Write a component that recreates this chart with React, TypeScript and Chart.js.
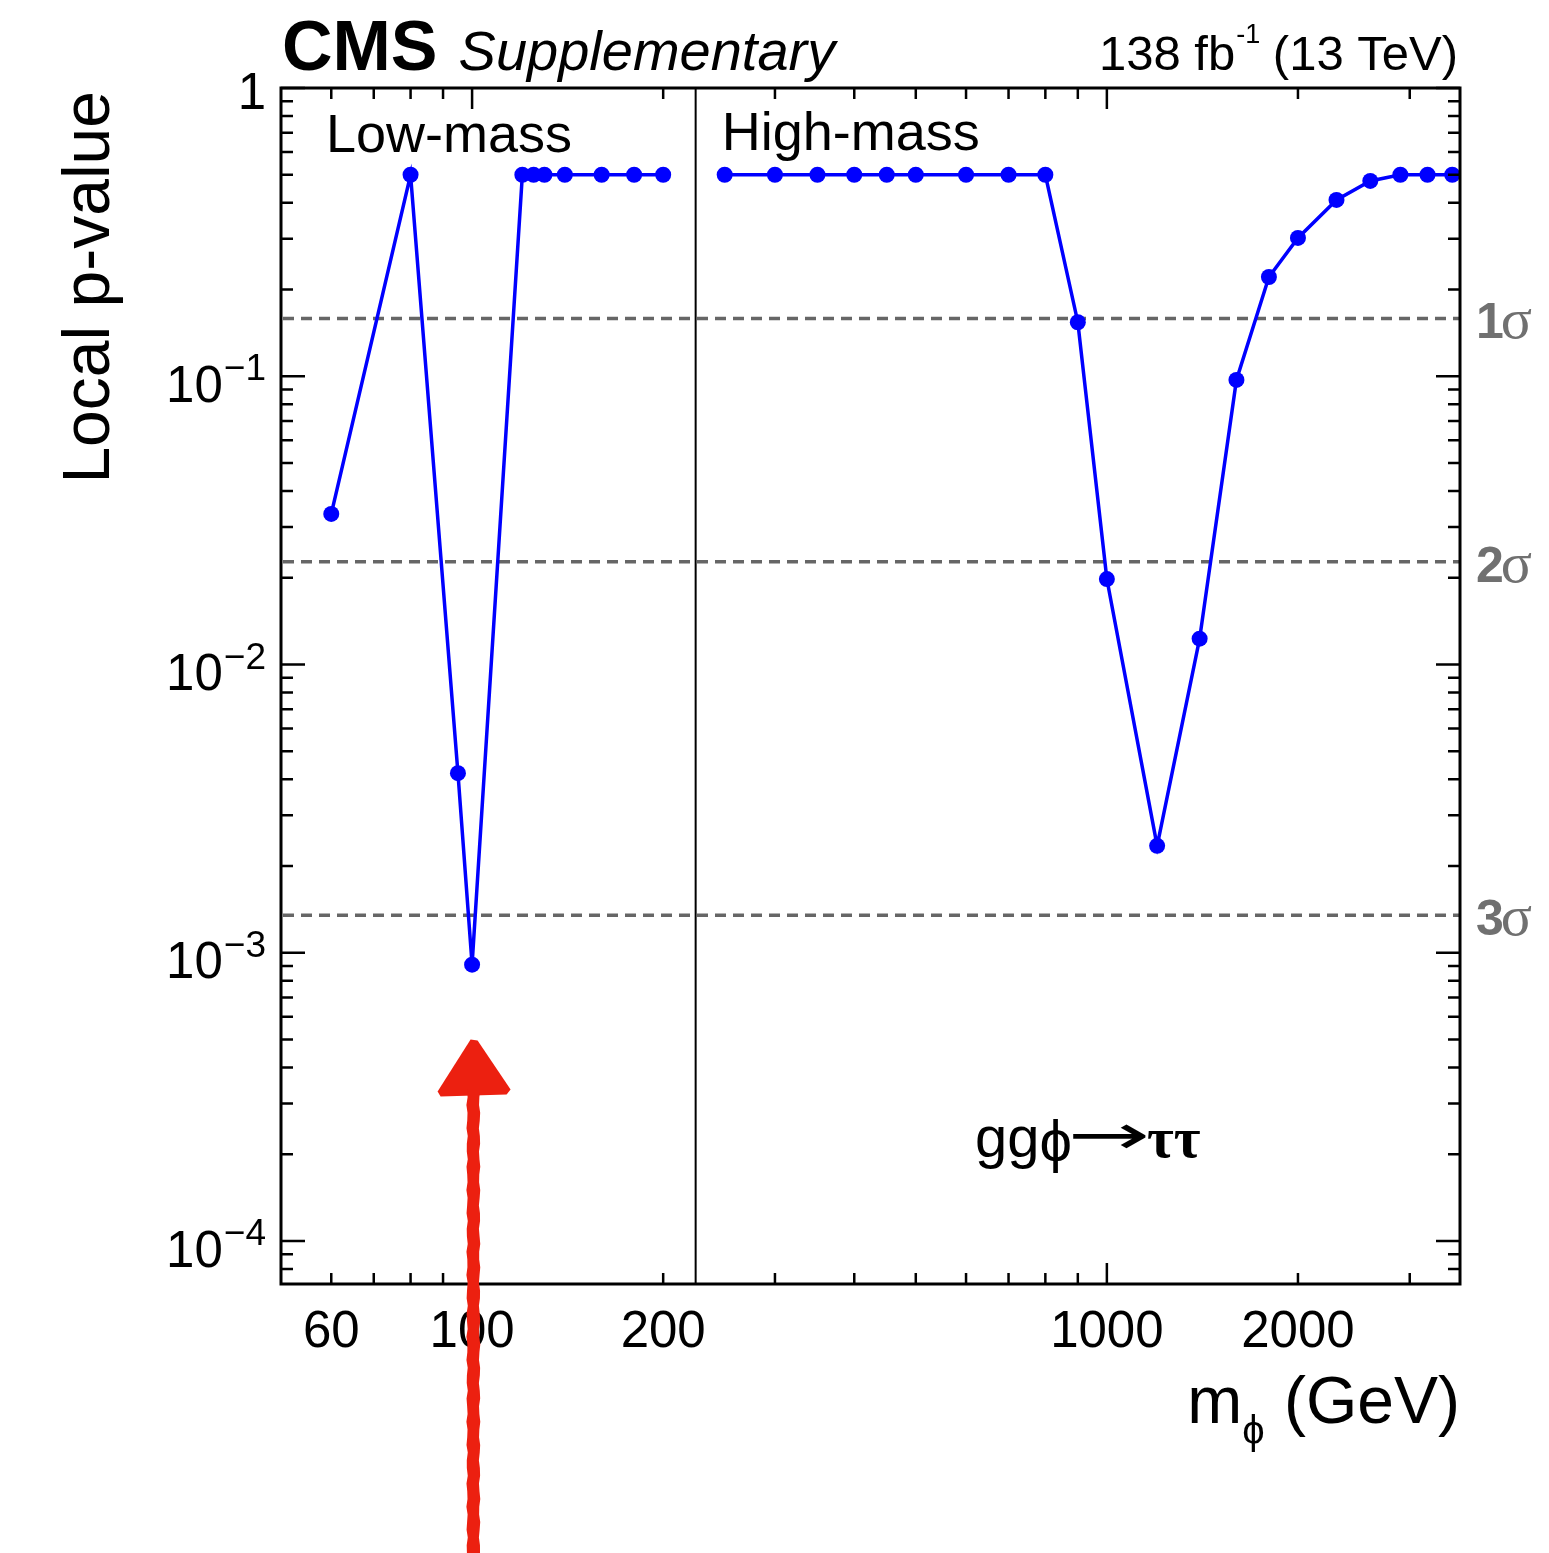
import React, { useEffect, useRef } from "react";
import { Chart, registerables } from "chart.js";

Chart.register(...registerables);

// ---------- data ----------
const lowMass = [60, 80, 95, 100, 120, 125, 130, 140, 160, 180, 200];
const lowP = [0.0333, 0.5, 0.0042, 0.00091, 0.5, 0.5, 0.5, 0.5, 0.5, 0.5, 0.5];

const highMass = [250, 300, 350, 400, 450, 500, 600, 700, 800, 900, 1000, 1200, 1400, 1600, 1800, 2000, 2300, 2600, 2900, 3200, 3500];
const highP = [0.5, 0.5, 0.5, 0.5, 0.5, 0.5, 0.5, 0.5, 0.5, 0.154, 0.0198, 0.00235, 0.0123, 0.0971, 0.221, 0.302, 0.409, 0.476, 0.5, 0.5, 0.5];

const xTickValues = [60, 70, 80, 90, 100, 200, 300, 400, 500, 600, 700, 800, 900, 1000, 2000, 3000];
const xMajorTicks = [100, 1000];
const xTickLabels = [60, 100, 200, 1000, 2000];
const yDecadeExponents = [0, -1, -2, -3, -4];

const sigmaNames = ["1", "2", "3"];
const sigmaP = [0.1587, 0.02275, 0.00135];

const regionNames = ["Low-mass", "High-mass"];
const X_MIN = 50;
const X_MAX = 3600;
const Y_MIN = 7.1e-5;
const Y_MAX = 1;
const SPLIT_MASS = 225;
const ARROW_MASS = 100;
const ARROW_TIP_P = 5e-4;

const SANS = "'Liberation Sans', Arial, Helvetica, sans-serif";
const SERIF = "'Liberation Serif', 'Times New Roman', serif";

const decor = {
  id: "cmsDecor",
  beforeDatasetsDraw(chart: any) {
    const { ctx, chartArea: a, scales } = chart;
    const y = scales.y;
    ctx.save();
    ctx.strokeStyle = "#666666";
    ctx.lineWidth = 3.5;
    ctx.setLineDash([11, 7]);
    sigmaP.forEach((p) => {
      const py = y.getPixelForValue(p);
      ctx.beginPath();
      ctx.moveTo(a.left + 2, py);
      ctx.lineTo(a.right, py);
      ctx.stroke();
    });
    ctx.restore();
  },
  afterDraw(chart: any) {
    const { ctx, chartArea: a, scales } = chart;
    const x = scales.x;
    const y = scales.y;
    ctx.save();
    ctx.fillStyle = "#000";
    ctx.strokeStyle = "#000";

    // separator between low- and high-mass regions
    const sx = x.getPixelForValue(SPLIT_MASS);
    ctx.lineWidth = 2;
    ctx.beginPath();
    ctx.moveTo(sx, a.top);
    ctx.lineTo(sx, a.bottom);
    ctx.stroke();

    // ticks (inside the frame, on all four sides)
    ctx.lineWidth = 2.5;
    xTickValues.forEach((v) => {
      const px = x.getPixelForValue(v);
      const len = xMajorTicks.includes(v) ? 21 : 11;
      ctx.beginPath();
      ctx.moveTo(px, a.bottom);
      ctx.lineTo(px, a.bottom - len);
      ctx.moveTo(px, a.top);
      ctx.lineTo(px, a.top + len);
      ctx.stroke();
    });
    for (let e = -5; e <= 0; e++) {
      for (let k = 1; k <= 9; k++) {
        const v = k * Math.pow(10, e);
        if (v < Y_MIN || v > Y_MAX * 1.0001) continue;
        const py = y.getPixelForValue(v);
        const len = k === 1 ? 24 : 12;
        ctx.beginPath();
        ctx.moveTo(a.left, py);
        ctx.lineTo(a.left + len, py);
        ctx.moveTo(a.right, py);
        ctx.lineTo(a.right - len, py);
        ctx.stroke();
      }
    }

    // frame
    ctx.lineWidth = 3;
    ctx.strokeRect(a.left, a.top, a.right - a.left, a.bottom - a.top);

    // y tick labels
    const labelRight = a.left - 15;
    ctx.textBaseline = "alphabetic";
    ctx.textAlign = "right";
    yDecadeExponents.forEach((e) => {
      const py = y.getPixelForValue(Math.pow(10, e));
      if (e === 0) {
        ctx.font = `51px ${SANS}`;
        ctx.fillText("1", labelRight, py + 21);
      } else {
        const expText = "\u2212" + String(-e);
        ctx.font = `37px ${SANS}`;
        const ew = ctx.measureText(expText).width;
        ctx.fillText(expText, labelRight, py + 4);
        ctx.font = `51px ${SANS}`;
        ctx.fillText("10", labelRight - ew - 1, py + 25.5);
      }
    });

    // x tick labels
    ctx.textAlign = "center";
    ctx.font = `51px ${SANS}`;
    xTickLabels.forEach((v) => {
      ctx.fillText(String(v), x.getPixelForValue(v), a.bottom + 63);
    });

    // x axis title
    ctx.textAlign = "right";
    ctx.font = `66px ${SANS}`;
    const geV = " (GeV)";
    const gw = ctx.measureText(geV).width;
    ctx.fillText(geV, a.right, a.bottom + 139);
    ctx.font = `40px ${SANS}`;
    const phiW = ctx.measureText("\u03d5").width;
    ctx.fillText("\u03d5", a.right - gw - 1, a.bottom + 160);
    ctx.font = `66px ${SANS}`;
    ctx.fillText("m", a.right - gw - phiW - 1, a.bottom + 139);

    // y axis title
    ctx.save();
    ctx.translate(109, a.top + 3);
    ctx.rotate(-Math.PI / 2);
    ctx.textAlign = "right";
    ctx.font = `66px ${SANS}`;
    ctx.fillText("Local p-value", 0, 0);
    ctx.restore();

    // CMS header
    ctx.textAlign = "left";
    ctx.font = `bold 70px ${SANS}`;
    ctx.fillText("CMS", a.left + 1, 70);
    const cmsW = ctx.measureText("CMS").width;
    ctx.font = `italic 56px ${SANS}`;
    ctx.fillText("Supplementary", a.left + cmsW + 22, 70);

    // luminosity label
    ctx.font = `49px ${SANS}`;
    const p1 = "138 fb";
    const p3 = " (13 TeV)";
    const w1 = ctx.measureText(p1).width;
    const w3 = ctx.measureText(p3).width;
    ctx.font = `27px ${SANS}`;
    const p2 = "-1";
    const w2 = ctx.measureText(p2).width;
    const lx = a.right - (w1 + w2 + w3) - 2;
    ctx.font = `49px ${SANS}`;
    ctx.fillText(p1, lx, 70);
    ctx.font = `27px ${SANS}`;
    ctx.fillText(p2, lx + w1 + 1, 43);
    ctx.font = `49px ${SANS}`;
    ctx.fillText(p3, lx + w1 + w2, 70);

    // region labels
    ctx.font = `54px ${SANS}`;
    ctx.fillText(regionNames[0], a.left + 45, a.top + 64);
    ctx.fillText(regionNames[1], sx + 26, a.top + 62);

    // sigma labels
    ctx.fillStyle = "#707070";
    sigmaP.forEach((p, i) => {
      const py = y.getPixelForValue(p);
      ctx.font = `bold 50px ${SANS}`;
      const nx = a.right + 16;
      ctx.fillText(sigmaNames[i], nx, py + 20);
      const nw = ctx.measureText(sigmaNames[i]).width;
      ctx.font = `58px ${SERIF}`;
      ctx.fillText("\u03c3", nx + nw - 3, py + 20);
    });

    // process label
    ctx.fillStyle = "#000";
    const base = 1157;
    let px0 = 975;
    ctx.font = `58px ${SANS}`;
    ctx.fillText("gg", px0, base);
    px0 += ctx.measureText("gg").width;
    ctx.font = `58px ${SANS}`;
    ctx.fillText("\u03d5", px0, base + 4);
    px0 += ctx.measureText("\u03d5").width;
    const arrowEnd = 1147;
    ctx.font = `56px 'DejaVu Sans', ${SANS}`;
    const am = ctx.measureText("\u2192");
    const inkL = -am.actualBoundingBoxLeft;
    const inkR = am.actualBoundingBoxRight;
    const inkW = Math.max(1, inkR - inkL);
    const sxA = (arrowEnd - (px0 + 1)) / inkW;
    ctx.save();
    ctx.translate(px0 + 1 - inkL * sxA, base - 3);
    ctx.scale(sxA, 1);
    ctx.fillText("\u2192", 0, 0);
    ctx.restore();
    ctx.font = `bold 58px ${SERIF}`;
    ctx.fillText("\u03c4\u03c4", arrowEnd, base);

    // hand-drawn red arrow pointing at the low-mass excess
    const ax = x.getPixelForValue(ARROW_MASS) + 1.5;
    const tip = y.getPixelForValue(ARROW_TIP_P);
    ctx.fillStyle = "#ec2010";
    ctx.beginPath();
    ctx.moveTo(ax - 3, tip);
    ctx.lineTo(ax + 4, tip + 1);
    ctx.lineTo(ax + 37, tip + 50);
    ctx.lineTo(ax + 33, tip + 55);
    ctx.lineTo(ax - 33, tip + 57);
    ctx.lineTo(ax - 36, tip + 52);
    ctx.closePath();
    ctx.fill();
    const H = chart.height;
    ctx.beginPath();
    const top = tip + 50;
    const steps = 60;
    for (let i = 0; i <= steps; i++) {
      const yy = top + ((H - top) * i) / steps;
      const wob = 0.7 * Math.sin(i * 2.3);
      const xx = ax - 6.5 + wob;
      if (i === 0) ctx.moveTo(xx, yy);
      else ctx.lineTo(xx, yy);
    }
    for (let i = steps; i >= 0; i--) {
      const yy = top + ((H - top) * i) / steps;
      const wob = 0.7 * Math.cos(i * 1.9);
      ctx.lineTo(ax + 6 + wob, yy);
    }
    ctx.closePath();
    ctx.fill();

    ctx.restore();
  },
};

export default function App() {
  const ref = useRef<HTMLCanvasElement | null>(null);
  useEffect(() => {
    if (!ref.current) return;
    const lineStyle = {
      showLine: true,
      borderColor: "#0000ff",
      backgroundColor: "#0000ff",
      borderWidth: 3.5,
      pointRadius: 8,
      pointHoverRadius: 8,
      pointBorderWidth: 0,
      tension: 0,
    };
    const chart = new Chart(ref.current, {
      type: "scatter",
      data: {
        datasets: [
          { label: "Low-mass", data: lowMass.map((m, i) => ({ x: m, y: lowP[i] })), ...lineStyle },
          { label: "High-mass", data: highMass.map((m, i) => ({ x: m, y: highP[i] })), ...lineStyle },
        ],
      },
      options: {
        responsive: false,
        animation: false,
        devicePixelRatio: 1,
        events: [],
        layout: { padding: { left: 0, right: 89, top: 88, bottom: 0 } },
        plugins: {
          legend: { display: false },
          tooltip: { enabled: false },
          title: { display: false },
        },
        scales: {
          x: {
            type: "logarithmic",
            min: X_MIN,
            max: X_MAX,
            bounds: "data",
            grid: { display: false },
            border: { display: false },
            ticks: { display: false },
            afterFit: (s: any) => {
              s.height = 269;
            },
          },
          y: {
            type: "logarithmic",
            min: Y_MIN,
            max: Y_MAX,
            bounds: "data",
            grid: { display: false },
            border: { display: false },
            ticks: { display: false },
            afterFit: (s: any) => {
              s.width = 281;
            },
          },
        },
      } as any,
      plugins: [decor],
    });
    return () => chart.destroy();
  }, []);

  return (
    <div style={{ position: "absolute", left: 0, top: 0, width: 1549, height: 1553, background: "#fff" }}>
      <canvas ref={ref} width={1549} height={1553} style={{ display: "block" }} />
    </div>
  );
}
